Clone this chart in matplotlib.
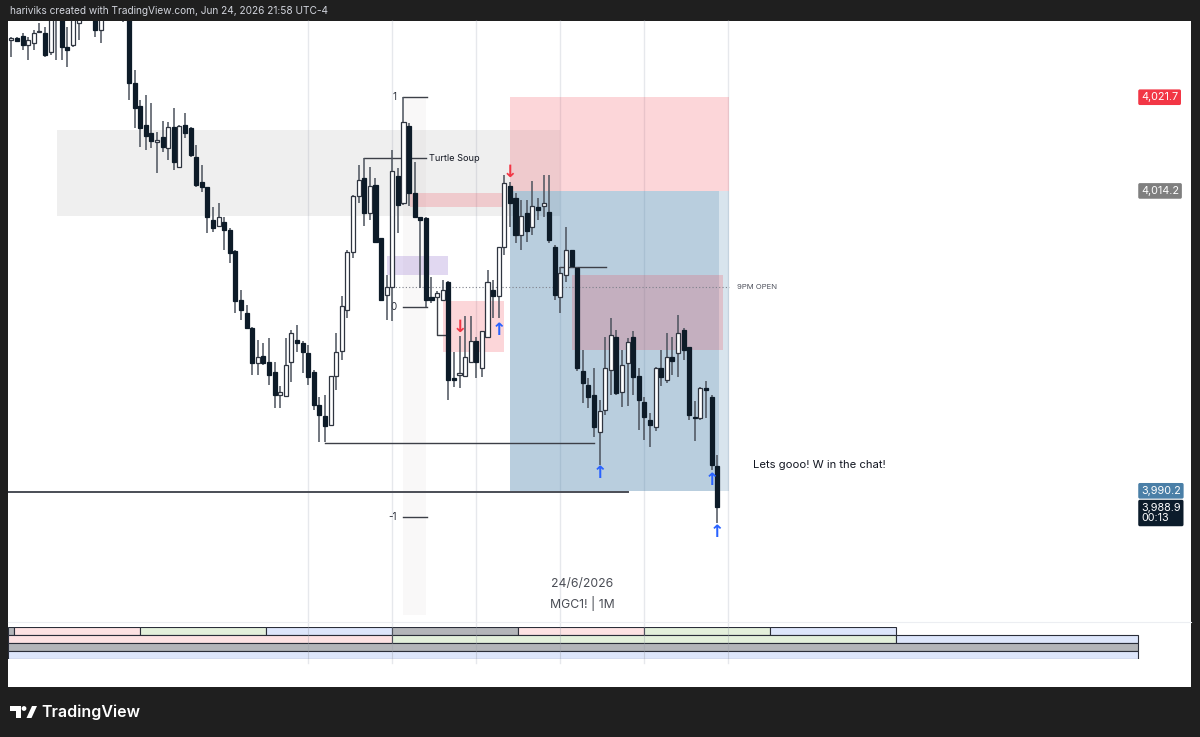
import matplotlib
matplotlib.use("Agg")
import matplotlib.pyplot as plt
import matplotlib.transforms as mtransforms
from matplotlib.patches import Rectangle, Polygon, Circle

plt.rcParams['font.family'] = ['Inter', 'DejaVu Sans']

# MGC1! 1-minute bars, bar 68 = 21:00 (9PM open), bar 126 = live bar 21:58
opens = [4026.3, 4026.4, 4026.6, 4025.9, 4026.0, 4026.9, 4026.8, 4025.3, 4028.3, 4029.1,
         4025.7, 4025.9, 4027.6, 4029.1, 4028.6, 4028.7, 4027.1, 4028.5, 4029.4, 4029.0,
         4028.6, 4028.3, 4022.8, 4021.0, 4019.5, 4018.8, 4018.1, 4018.5, 4017.6, 4019.3,
         4016.1, 4019.5, 4019.2, 4016.9, 4014.9, 4014.5, 4011.9, 4011.4, 4011.7, 4011.1,
         4009.4, 4005.5, 4004.4, 4003.2, 4000.4, 4001.0, 4000.5, 3999.7, 3997.9, 3997.8,
         4000.5, 4002.3, 4002.0, 4001.2, 3999.7, 3997.1, 3996.2, 3995.5, 3999.4, 4001.4,
         4004.7, 4009.3, 4013.8, 4015.2, 4012.4, 4014.7, 4010.4, 4005.9, 4006.5, 4015.4,
         4013.2, 4019.4, 4014.0, 4012.1, 4012.0, 4005.7, 4005.7, 4005.5, 4006.9, 3999.2,
         3999.5, 3999.4, 4000.5, 4002.2, 4000.0, 4002.5, 4006.3, 4005.8, 4009.7, 4014.6,
         4013.6, 4010.7, 4012.4, 4011.3, 4012.9, 4013.0, 4012.5, 4009.7, 4005.7, 4007.5,
         4009.5, 4008.0, 3999.8, 3998.7, 3997.9, 3994.9, 3996.7, 3999.9, 4002.5, 3998.1,
         4000.4, 4002.5, 3999.4, 3997.3, 3995.9, 3995.3, 4000.0, 3999.1, 4000.9, 4001.2,
         4003.1, 4001.7, 3996.1, 3996.0, 3998.4, 3997.7, 3992.2]
highs = [4026.5, 4026.5, 4026.8, 4026.5, 4027.1, 4027.6, 4027.3, 4028.7, 4029.2, 4029.3,
         4027.3, 4028.8, 4029.4, 4030.0, 4029.5, 4029.0, 4028.9, 4029.8, 4030.2, 4029.6,
         4029.0, 4028.6, 4023.9, 4021.5, 4021.9, 4021.2, 4018.9, 4019.8, 4019.7, 4020.8,
         4019.5, 4020.4, 4019.3, 4017.9, 4016.3, 4014.5, 4012.9, 4013.2, 4012.1, 4011.2,
         4009.5, 4006.3, 4005.1, 4003.3, 4002.3, 4002.0, 4002.4, 4000.5, 3998.6, 4002.4,
         4003.1, 4003.5, 4002.2, 4001.9, 3999.9, 3997.7, 3997.9, 3999.4, 4002.8, 4005.8,
         4009.5, 4013.9, 4016.3, 4016.8, 4016.1, 4015.2, 4010.4, 4007.5, 4017.5, 4016.0,
         4021.7, 4019.6, 4016.5, 4012.1, 4012.1, 4007.3, 4006.2, 4007.1, 4007.0, 4001.3,
         4002.6, 4004.2, 4004.2, 4002.5, 4003.0, 4007.9, 4007.1, 4009.7, 4015.5, 4014.9,
         4014.0, 4013.5, 4013.5, 4015.0, 4013.6, 4015.5, 4015.5, 4009.9, 4008.1, 4011.3,
         4009.5, 4008.1, 4001.5, 3999.2, 4000.0, 3997.5, 4002.5, 4004.0, 4003.1, 4001.5,
         4002.4, 4003.0, 4000.0, 3997.7, 3996.4, 4000.1, 4001.5, 4002.8, 4002.5, 4004.3,
         4003.2, 4001.7, 3997.4, 3998.5, 3999.0, 3997.9, 3993.1]
lows = [4024.9, 4026.1, 4025.5, 4024.7, 4025.5, 4026.8, 4024.9, 4025.1, 4024.7, 4024.7,
        4024.1, 4025.7, 4026.3, 4028.2, 4028.0, 4026.5, 4026.0, 4028.1, 4028.9, 4028.3,
        4027.7, 4021.5, 4019.2, 4017.7, 4017.5, 4017.6, 4015.6, 4017.3, 4016.7, 4015.9,
        4016.0, 4018.4, 4016.9, 4014.5, 4014.1, 4010.8, 4010.9, 4011.3, 4009.5, 4008.4,
        4004.4, 4003.9, 4003.2, 3999.5, 3999.5, 4000.3, 3998.7, 3996.8, 3996.8, 3997.8,
        3998.9, 4001.3, 3999.6, 3998.7, 3996.7, 3994.1, 3994.1, 3995.4, 3998.3, 4000.7,
        4004.0, 4008.8, 4013.2, 4011.4, 4011.9, 4010.0, 4005.5, 4003.9, 4003.8, 4010.8,
        4013.1, 4013.0, 4012.0, 4006.4, 4004.9, 4005.2, 4005.6, 4005.5, 3997.5, 3998.5,
        3998.4, 3999.4, 4000.5, 3999.2, 3999.3, 4002.5, 4004.0, 4004.0, 4009.1, 4011.3,
        4010.0, 4009.5, 4010.1, 4010.7, 4011.9, 4012.1, 4010.0, 4005.5, 4004.4, 4006.9,
        4008.0, 3999.8, 3997.2, 3996.8, 3994.5, 3992.3, 3996.3, 3997.9, 3997.9, 3996.9,
        3997.0, 3997.9, 3995.1, 3994.3, 3993.7, 3995.0, 3998.6, 3998.8, 3999.5, 3999.3,
        4000.7, 3995.9, 3994.2, 3995.9, 3996.0, 3991.9, 3987.6]
closes = [4026.4, 4026.2, 4025.9, 4026.3, 4026.8, 4027.0, 4025.1, 4028.3, 4028.8, 4025.7,
          4025.5, 4028.5, 4029.1, 4028.6, 4029.2, 4027.1, 4028.5, 4029.4, 4029.0, 4028.6,
          4028.0, 4022.8, 4020.8, 4019.2, 4018.6, 4018.2, 4018.3, 4017.7, 4019.3, 4016.5,
          4019.4, 4018.8, 4017.1, 4014.7, 4014.5, 4012.1, 4011.2, 4012.1, 4011.1, 4009.2,
          4005.4, 4004.7, 4003.2, 4000.4, 4000.9, 4000.4, 3999.5, 3997.9, 3998.1, 4000.3,
          4002.8, 4002.0, 4001.3, 3999.3, 3997.1, 3996.3, 3995.4, 3999.4, 4001.3, 4005.0,
          4009.3, 4013.8, 4015.1, 4012.4, 4014.6, 4010.1, 4005.5, 4006.5, 4015.8, 4013.1,
          4019.7, 4014.0, 4012.1, 4011.9, 4005.5, 4005.5, 4006.0, 4006.3, 3999.1, 3999.1,
          3999.6, 4000.9, 4002.2, 4000.5, 4003.0, 4006.9, 4005.8, 4009.7, 4014.8, 4013.2,
          4010.7, 4012.2, 4011.0, 4013.0, 4012.7, 4013.2, 4010.3, 4005.9, 4007.6, 4009.5,
          4008.2, 4000.0, 3998.8, 3997.7, 3995.3, 3996.6, 4000.0, 4002.7, 3998.0, 4000.3,
          4002.1, 3999.3, 3997.5, 3996.1, 3995.5, 4000.0, 3999.3, 4000.9, 4000.6, 4002.8,
          4001.5, 3996.3, 3996.0, 3998.4, 3998.3, 3992.3, 3988.9]

# short position tool
stop_price, entry_price, target_price = 4021.7, 4014.2, 3990.2
pos_start, pos_end, pos_live = 89.0, 128.1, 126.3
last_time = "00:13"

# zones: (bar_from, bar_to, price_low, price_high)
premium_zone = (8.1, 97.9, 4012.2, 4019.1)
purple_zone = (67.1, 77.9, 4007.5, 4009.0)
fvg_band = (71.1, 88.4, 4012.9, 4014.0)
pink_zone = (77.1, 87.9, 4001.3, 4005.4)
mauve_zone = (100.1, 127.0, 4001.5, 4007.5)
killzone = (69.9, 74.0, 3980.3, 4021.7)

fib_levels = [4021.7, 4004.9, 3988.1]
fib_labels = ['1', '0', '-1']
turtle_level = 4016.8
nine_pm_open = 4006.5
sweep_low = 3994.0
long_level = 3990.1
mid_level = 4008.1

grid_bars = [53, 68, 83, 98, 113, 128]
red_arrows = [(89, 4015.7), (80, 4003.3)]
blue_arrows = [(87, 4003.1), (105, 3991.6), (125, 3991.1), (126, 3986.9)]

# quarter / cycle strip at the bottom
q_edges = [-0.7, 0.5, 23, 45.5, 68, 90.5, 113, 135.5, 158]
q_colors = ['#b3b5b9', '#fde2e3', '#e3f0db', '#dde6fb', '#b3b5b9', '#fde2e3', '#e3f0db', '#dde6fb']
c_edges = [-0.7, 68, 158, 201.1]
c_colors = ['#fde2e3', '#e3f0db', '#dde6fb']

W, H = 1200, 737
fig = plt.figure(figsize=(W / 100, H / 100), dpi=100)
fig.patch.set_facecolor('#1f1f1f')


def fig_rect(left, top, right, bottom):
    return [left / W, 1 - bottom / H, (right - left) / W, (bottom - top) / H]


def bare(a):
    for s in a.spines.values():
        s.set_visible(False)
    a.set_xticks([])
    a.set_yticks([])


canvas = fig.add_axes(fig_rect(7.5, 21, 1191, 686.5))
canvas.set_facecolor('white')
bare(canvas)

ax = fig.add_axes(fig_rect(7.5, 21, 1191, 622))
ax.set_facecolor('none')
bare(ax)
ax.spines['bottom'].set_visible(True)
ax.spines['bottom'].set_color('#eceef2')
ax.set_xlim(-0.7, 210.6)
ax.set_ylim(3979.7, 4027.8)

for g in grid_bars:
    ax.axvline(g, ymin=-0.068, ymax=1, color='#e6e8ec', lw=1, zorder=0.5, clip_on=False)


def zone(z, color, alpha, order=1):
    x0, x1, lo, hi = z
    ax.add_patch(Rectangle((x0, lo), x1 - x0, hi - lo, facecolor=color, alpha=alpha,
                           lw=0, zorder=order))


zone(killzone, '#f9f8f8', 1, 0.8)
zone(premium_zone, '#8a8a8a', 0.13)
zone((pos_start, pos_end, entry_price, stop_price), '#f23645', 0.2)
zone((pos_start, pos_end, target_price, entry_price), '#3f7aa6', 0.2)
zone((pos_start, pos_live, target_price, entry_price), '#3f7aa6', 0.2)
zone(fvg_band, '#f23645', 0.2)
zone(purple_zone, '#9575cd', 0.28)
zone(pink_zone, '#f23645', 0.2)
zone(mauve_zone, '#f23645', 0.2)

line_kw = dict(color='#3c3f47', lw=1, zorder=3)
for lvl, lab in zip(fib_levels, fib_labels):
    ax.plot([70, 74.2], [lvl, lvl], **line_kw)
    ax.text(68.8, lvl, lab, ha='right', va='center', fontsize=7, color='#2a2e39')
ax.plot([63, 74], [turtle_level, turtle_level], **line_kw)
ax.text(74.6, turtle_level, 'Turtle Soup', ha='left', va='center', fontsize=6.6, color='#131722')
ax.plot([56, 104], [sweep_low, sweep_low], **line_kw)
ax.plot([98, 106.1], [mid_level, mid_level], **line_kw)
ax.plot([76, 76, 77.8], [4005.7, 4002.7, 4002.7], **line_kw)
ax.plot([-0.7, 110.1], [long_level, long_level], color='#4a4d55', lw=1.4, zorder=3)
ax.plot([68, 128.1], [nine_pm_open, nine_pm_open], color='#7d808a', lw=0.8,
        ls=(0, (1, 2)), zorder=3)
ax.text(129.5, nine_pm_open, '9PM OPEN', ha='left', va='center', fontsize=5.6, color='#50535e')

# candles
ax.vlines(range(len(opens)), lows, highs, color='#4b525c', lw=1.1, zorder=5)
for i, (o, c) in enumerate(zip(opens, closes)):
    up = c >= o
    ax.add_patch(Rectangle((i - 0.36, min(o, c)), 0.72, max(abs(c - o), 0.08),
                           facecolor='white' if up else '#0d1b28',
                           edgecolor='#2f3540' if up else '#0d1b28', lw=0.9, zorder=6))

for x, y in red_arrows:
    ax.text(x, y, '↓', ha='center', va='center', fontsize=12.5, fontweight='bold',
            color='#f23645', family='DejaVu Sans', zorder=7)
for x, y in blue_arrows:
    ax.text(x, y, '↑', ha='center', va='center', fontsize=12.5, fontweight='bold',
            color='#2962ff', family='DejaVu Sans', zorder=7)

ax.text(132.4, 3992.3, 'Lets gooo! W in the chat!', ha='left', va='center',
        fontsize=8.1, color='#131722')

# price scale tags
tag_tr = mtransforms.blended_transform_factory(ax.transAxes, ax.transData)
for price, bg in [(stop_price, '#f23645'), (entry_price, '#7f7f7f'), (target_price, '#4a7fa7')]:
    ax.text(0.9578, price, f'{price:,.1f}', transform=tag_tr, ha='left', va='center',
            fontsize=7.8, color='white', clip_on=False,
            bbox=dict(boxstyle='round,pad=0.26,rounding_size=0.15', fc=bg, ec='none'))
ax.annotate(f'{closes[-1]:,.1f}\n{last_time}', xy=(0.9578, closes[-1]), xycoords=tag_tr,
            xytext=(0, -4.3), textcoords='offset points', ha='left', va='center',
            fontsize=7.8, color='white', linespacing=1.1,
            bbox=dict(boxstyle='round,pad=0.26,rounding_size=0.15', fc='#0c1c2b', ec='none'))

ax.text(0.4855, 0.0635, '24/6/2026', transform=ax.transAxes, ha='center', va='center',
        fontsize=8.8, color='#4a4d55')
ax.text(0.4855, 0.0303, 'MGC1! | 1M', transform=ax.transAxes, ha='center', va='center',
        fontsize=8.8, color='#4a4d55')

# cycle strip
strip = fig.add_axes(fig_rect(7.5, 627, 1191, 659))
strip.set_facecolor('none')
bare(strip)
strip.set_xlim(-0.7, 210.6)
strip.set_ylim(4, 0)
box_kw = dict(edgecolor='#2a2e39', lw=0.8)
for a, b, col in zip(q_edges[:-1], q_edges[1:], q_colors):
    strip.add_patch(Rectangle((a, 0), b - a, 1, facecolor=col, **box_kw))
for a, b, col in zip(c_edges[:-1], c_edges[1:], c_colors):
    strip.add_patch(Rectangle((a, 1), b - a, 1, facecolor=col, **box_kw))
strip.add_patch(Rectangle((c_edges[0], 2), c_edges[-1] - c_edges[0], 1, facecolor='#b3b5b9', **box_kw))
strip.add_patch(Rectangle((c_edges[0], 3), c_edges[-1] - c_edges[0], 1, facecolor='#dde6fb', **box_kw))
for g in grid_bars:
    strip.axvline(g, color='#9aa0aa', lw=0.8, alpha=0.35, zorder=5)

# header / footer
fig.text(10 / W, 1 - 11 / H, 'hariviks created with TradingView.com, Jun 24, 2026 21:58 UTC-4',
         ha='left', va='center', fontsize=7.3, color='#d1d4dc')
px = mtransforms.Affine2D().scale(1 / W, -1 / H).translate(0, 1) + fig.transFigure
fig.patches.append(Polygon([(10, 706), (20.5, 706), (20.5, 718), (15.5, 718), (15.5, 711), (10, 711)],
                           closed=True, fc='white', ec='none', transform=px))
fig.patches.append(Circle((24, 708.5), 2.4, fc='white', ec='none', transform=px))
fig.patches.append(Polygon([(26.5, 718), (32, 706), (37, 706), (31.5, 718)],
                           closed=True, fc='white', ec='none', transform=px))
fig.text(41 / W, 1 - 712 / H, 'TradingView', ha='left', va='center', fontsize=11.5,
         fontweight='semibold', color='white')

fig.savefig('out.png', dpi=100, facecolor=fig.get_facecolor())
